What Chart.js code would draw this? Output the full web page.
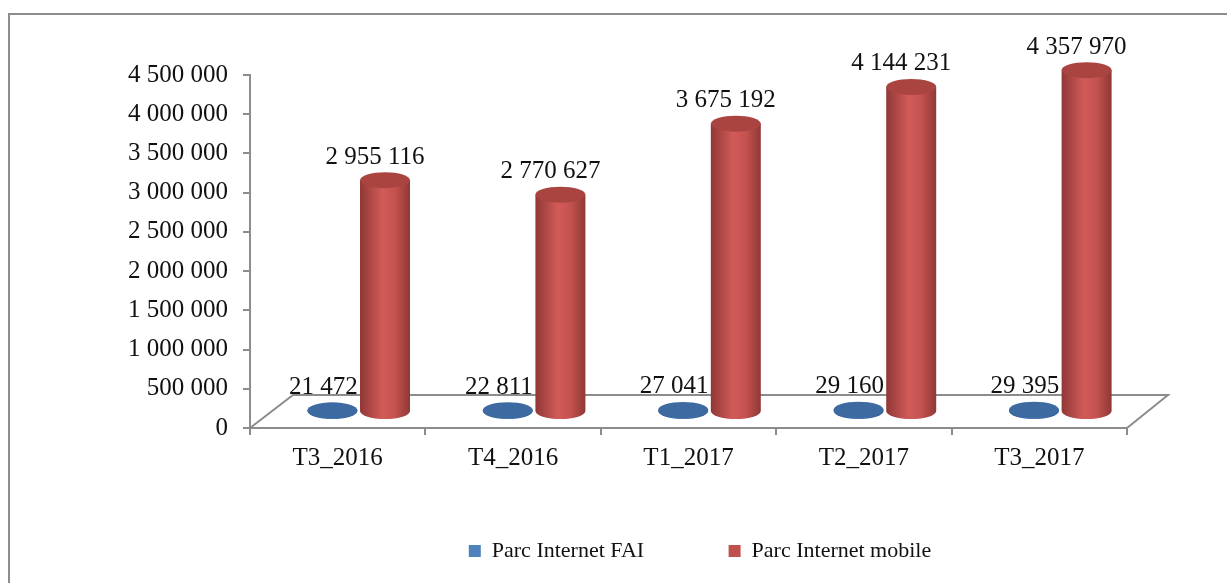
<!DOCTYPE html>
<html>
<head>
<meta charset="utf-8">
<script src="https://cdn.jsdelivr.net/npm/chart.js@4/dist/chart.umd.min.js"></script>
<style>
  html, body { margin: 0; padding: 0; background: #fff; overflow: hidden; width: 1227px; height: 583px; }
  #frame { position: absolute; left: 8px; top: 13px; width: 1380px; height: 700px; border: 2px solid #8c8c8c; }
  #myChart { position: absolute; left: 0; top: 0; }
</style>
</head>
<body>
<div id="frame"></div>
<canvas id="myChart" width="1400" height="583"></canvas>
<script>
// categories along the x-axis
var quarters = ["T3_2016", "T4_2016", "T1_2017", "T2_2017", "T3_2017"];

// series values
var parcFAI = [21472, 22811, 27041, 29160, 29395];
var parcMobile = [2955116, 2770627, 3675192, 4144231, 4357970];

// y-axis ticks
var yMax = 4500000;
var yStep = 500000;

var FONT = '"Liberation Serif", "Times New Roman", serif';
var AXIS = '#8c8c8c';

// depth offset of the 3d floor and cylinders
var DEPTH_X = 43, DEPTH_Y = -33;
var DX = 21, DY = -16, RY = 8;

function fmt(n) {
    return String(n).replace(/\B(?=(\d{3})+(?!\d))/g, ' ');
}

function cylinder(ctx, cx, top, bottom, rx, colors) {
    var g = ctx.createLinearGradient(cx - rx, 0, cx + rx, 0);
    g.addColorStop(0, colors[0]);
    g.addColorStop(0.45, colors[1]);
    g.addColorStop(0.7, colors[2]);
    g.addColorStop(1, colors[0]);
    ctx.beginPath();
    ctx.moveTo(cx - rx, top);
    ctx.lineTo(cx - rx, bottom);
    ctx.ellipse(cx, bottom, rx, RY, 0, Math.PI, 0, true);
    ctx.lineTo(cx + rx, top);
    ctx.closePath();
    ctx.fillStyle = g;
    ctx.fill();
    ctx.beginPath();
    ctx.ellipse(cx, top, rx, RY, 0, 0, Math.PI * 2);
    ctx.fillStyle = colors[3];
    ctx.fill();
}

var redColors = ['#8f3836', '#d25b58', '#c4524f', '#a94441'];
var blueColors = ['#2f5a8e', '#4a7ab4', '#4270a8', '#3d6aa0'];

var cylinders = {
    id: 'cylinders',
    beforeDatasetsDraw: function (chart) {
        var ctx = chart.ctx;
        var a = chart.chartArea;
        ctx.save();
        // floor
        ctx.strokeStyle = AXIS;
        ctx.lineWidth = 2;
        ctx.beginPath();
        ctx.moveTo(a.left, a.bottom);
        ctx.lineTo(a.left + DEPTH_X, a.bottom + DEPTH_Y);
        ctx.lineTo(a.right + DEPTH_X - 2, a.bottom + DEPTH_Y);
        ctx.lineTo(a.right, a.bottom);
        ctx.stroke();

        var blue = chart.getDatasetMeta(0).data;
        var red = chart.getDatasetMeta(1).data;
        ctx.font = '25px ' + FONT;
        ctx.textAlign = 'center';
        ctx.textBaseline = 'middle';

        blue.forEach(function (el) {
            cylinder(ctx, el.x + DX, el.y + DY, el.base + DY, el.width / 2, blueColors);
        });
        ctx.fillStyle = '#111';
        blue.forEach(function (el, i) {
            ctx.fillText(fmt(parcFAI[i]), el.x + DX - 9, el.y + DY - 23);
        });
        red.forEach(function (el) {
            cylinder(ctx, el.x + DX, el.y + DY, el.base + DY, el.width / 2, redColors);
        });
        ctx.fillStyle = '#111';
        red.forEach(function (el, i) {
            ctx.fillText(fmt(parcMobile[i]), el.x + DX - 10, el.y + DY - 23);
        });
        ctx.restore();
        return false;
    }
};

var ctx = document.getElementById('myChart').getContext('2d');

var myChart = new Chart(ctx, {
    type: 'bar',
    data: {
        labels: quarters,
        datasets: [{
            label: "Parc Internet FAI",
            data: parcFAI,
            backgroundColor: "#4f81bd",
            borderWidth: 0
        },
        {
            label: "Parc Internet mobile",
            data: parcMobile,
            backgroundColor: "#c0504d",
            borderWidth: 0
        }]
    },
    options: {
        responsive: false,
        animation: false,
        categoryPercentage: 0.6,
        barPercentage: 0.95,
        layout: { padding: { top: 75, left: 0, right: 0, bottom: 11 } },
        scales: {
            x: {
                grid: { drawOnChartArea: false, tickLength: 7, color: AXIS, lineWidth: 2 },
                border: { color: AXIS, width: 2 },
                ticks: { color: '#111', font: { family: FONT, size: 25 }, padding: 8 },
                afterFit: function (s) { s.height = 99; }
            },
            y: {
                min: 0,
                max: yMax,
                ticks: {
                    stepSize: yStep,
                    color: '#111',
                    font: { family: FONT, size: 25 },
                    padding: 15,
                    callback: function (v) { return fmt(v); }
                },
                grid: { drawOnChartArea: false, tickLength: 7, color: AXIS, lineWidth: 2 },
                border: { color: AXIS, width: 2 },
                afterFit: function (s) { s.width = 250; }
            },
            // empty right axis, only keeps room on the right
            y2: {
                position: 'right',
                grid: { display: false },
                border: { display: false },
                ticks: { display: false },
                afterFit: function (s) { s.width = 273; }
            }
        },
        plugins: {
            tooltip: { enabled: false },
            legend: {
                position: 'bottom',
                labels: {
                    color: '#111',
                    font: { family: FONT, size: 22 },
                    boxWidth: 12,
                    boxHeight: 12,
                    padding: 13,
                    generateLabels: function (chart) {
                        var items = Chart.defaults.plugins.legend.labels.generateLabels(chart);
                        items[0].text = items[0].text + '             ';
                        return items;
                    }
                }
            }
        }
    },
    plugins: [cylinders]
});
</script>
</body>
</html>
